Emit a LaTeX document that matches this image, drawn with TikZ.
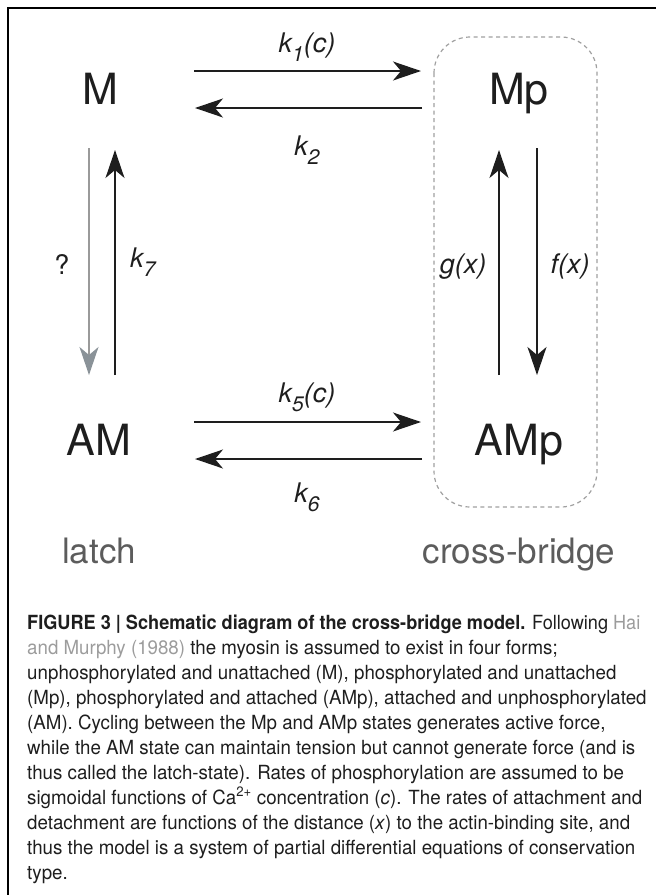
\documentclass[tikz,border=0pt]{standalone}
\usepackage{fontspec}
\setmainfont{TeX Gyre Heros}
\newfontfamily\capfont[FakeStretch=0.96]{TeX Gyre Heros}
\newfontfamily\capfonthead[FakeStretch=0.93]{TeX Gyre Heros}
\usetikzlibrary{arrows.meta}
\definecolor{ink}{HTML}{1E1E1E}
\definecolor{linkgray}{HTML}{9C9C9C}
\definecolor{arrowgray}{HTML}{8A9298}
\definecolor{linegray}{HTML}{9A9A9A}
\definecolor{boxgray}{HTML}{A0A0A0}
\definecolor{labelgray}{HTML}{5C5C5C}
\newcommand{\sbs}[1]{\raisebox{-9pt}{\fontsize{21}{21}\selectfont #1}}
\begin{document}
\begin{tikzpicture}[x=1pt,y=-1pt,
  state/.style={font=\fontsize{43}{43}\selectfont, text=ink, inner sep=0pt, anchor=base},
  rate/.style={font=\fontsize{27}{27}\selectfont\itshape, text=ink, inner sep=0pt, anchor=base},
  group/.style={font=\fontsize{35}{35}\selectfont, text=labelgray, inner sep=0pt, anchor=base},
  capline/.style={font=\capfont\fontsize{19.5}{25}\selectfont, text=ink, inner sep=0pt, anchor=base west},
  flow/.style={draw=ink, line width=1.4pt, -{Stealth[length=28pt,width=19pt,inset=8pt]}},
  grayflow/.style={draw=linegray, line width=1.3pt, -{Stealth[length=28pt,width=19pt,inset=8pt,color=arrowgray]}},
  frame/.style={draw=black, line width=1.5pt},
  groupbox/.style={draw=boxgray, line width=1.2pt, dash pattern=on 4pt off 3.5pt, rounded corners=36pt}]
\useasboundingbox (0,0) rectangle (656,895);
% frame
\draw[frame] (656,8) -- (8,8) -- (8,895);
% group box
\draw[groupbox] (434,37) rectangle (597,507);
% states
\node[state] (M) at (100,104) {M};
\node[state] (Mp) at (519,104) {Mp};
\node[state] (AM) at (99,455) {AM};
\node[state] (AMp) at (519,455) {AMp};
% endpoints
\coordinate (t1s) at (194,71);  \coordinate (t1e) at (421,71);
\coordinate (t2s) at (422,108); \coordinate (t2e) at (195,108);
\coordinate (b1s) at (194,422); \coordinate (b1e) at (421,422);
\coordinate (b2s) at (422,459); \coordinate (b2e) at (195,459);
\coordinate (l1s) at (89,148);  \coordinate (l1e) at (89,375);
\coordinate (l2s) at (115,375); \coordinate (l2e) at (115,150);
\coordinate (r1s) at (499,375); \coordinate (r1e) at (499,150);
\coordinate (r2s) at (537,148); \coordinate (r2e) at (537,375);
% connectors
\draw[flow] (t1s) -- (t1e);
\draw[flow] (t2s) -- (t2e);
\draw[flow] (b1s) -- (b1e);
\draw[flow] (b2s) -- (b2e);
\draw[grayflow] (l1s) -- (l1e);
\draw[flow] (l2s) -- (l2e);
\draw[flow] (r1s) -- (r1e);
\draw[flow] (r2s) -- (r2e);
% rate labels
\node[rate] (k1) at (307,52) {k\sbs{1}(c)};
\node[rate] (k2) at (307,155) {k\sbs{2}};
\node[rate] (k5) at (307,402) {k\sbs{5}(c)};
\node[rate] (k6) at (307,502) {k\sbs{6}};
\node[rate, font=\fontsize{27}{27}\selectfont] (q) at (62,274) {?};
\node[rate, anchor=base west] (k7) at (130,267) {k\sbs{7}};
\node[rate] (g) at (463,273) {g(x)};
\node[rate] (f) at (570,273) {f(x)};
% group labels
\node[group] (latch) at (99,563) {latch};
\node[group] (cb) at (519,563) {cross-bridge};
% caption
\node[capline, font=\capfonthead\fontsize{19.5}{25}\selectfont] (c1) at (27,629) {\textbf{FIGURE 3 | Schematic diagram of the cross-bridge model.} Following \textcolor{linkgray}{Hai}};
\node[capline] (c2) at (27,654) {\textcolor{linkgray}{and Murphy (1988)} the myosin is assumed to exist in four forms;};
\node[capline] (c3) at (27,679) {unphosphorylated and unattached (M), phosphorylated and unattached};
\node[capline] (c4) at (27,704) {(Mp), phosphorylated and attached (AMp), attached and unphosphorylated};
\node[capline] (c5) at (27,729) {(AM). Cycling between the Mp and AMp states generates active force,};
\node[capline] (c6) at (27,754) {while the AM state can maintain tension but cannot generate force (and is};
\node[capline] (c7) at (27,779) {thus called the latch-state). Rates of phosphorylation are assumed to be};
\node[capline] (c8) at (27,804) {sigmoidal functions of Ca\textsuperscript{2+} concentration (\textit{c}). The rates of attachment and};
\node[capline] (c9) at (27,829) {detachment are functions of the distance (\textit{x}) to the actin-binding site, and};
\node[capline] (c10) at (27,854) {thus the model is a system of partial differential equations of conservation};
\node[capline] (c11) at (27,879) {type.};
\end{tikzpicture}
\end{document}
